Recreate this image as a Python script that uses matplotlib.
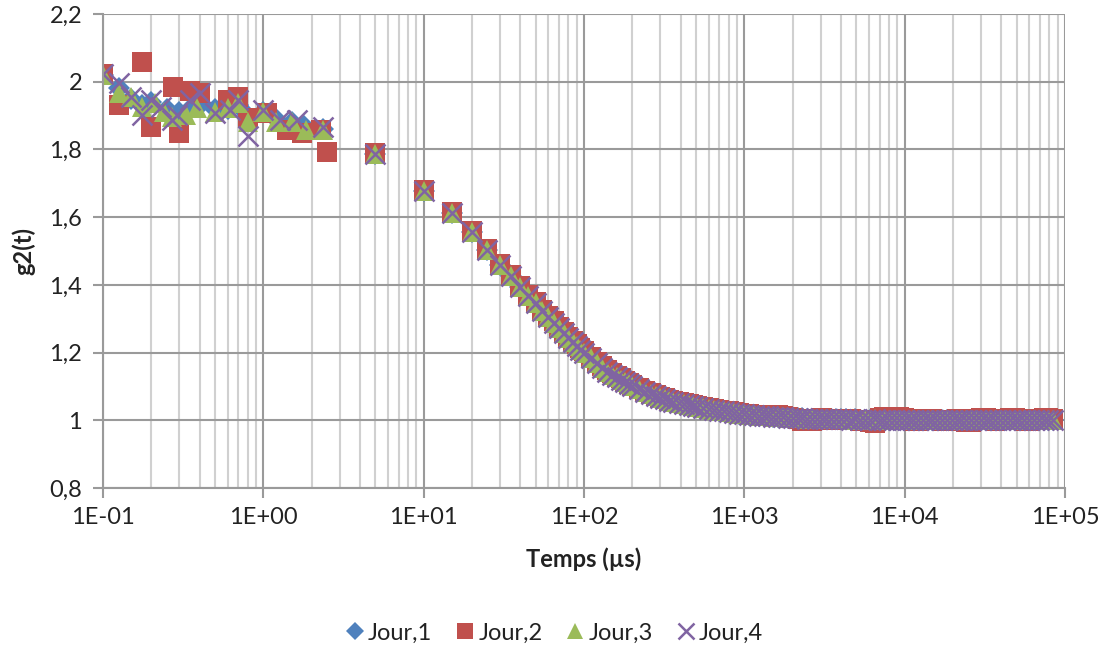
import math
import matplotlib
matplotlib.use("Agg")
import matplotlib.pyplot as plt
from matplotlib.ticker import LogLocator, FixedLocator, NullFormatter, FuncFormatter

plt.rcParams['font.family'] = ['Lato', 'DejaVu Sans']

# early part of the correlogram, each day its own sampling
t_j1_early = [0.1, 0.125, 0.15, 0.175, 0.2, 0.25, 0.3, 0.35, 0.4, 0.5, 0.6, 0.7, 0.8, 1.0, 1.2, 1.5, 1.8, 2.35]
g_j1_early = [2.02, 1.98, 1.95, 1.93, 1.94, 1.92, 1.91, 1.92, 1.93, 1.92, 1.92, 1.93, 1.90, 1.91, 1.89, 1.88, 1.87, 1.86]

t_j2_early = [0.1, 0.125, 0.175, 0.2, 0.275, 0.3, 0.35, 0.4, 0.6, 0.7, 0.8, 1.05, 1.4, 1.75, 2.3, 2.5]
g_j2_early = [2.023, 1.931, 2.058, 1.866, 1.984, 1.849, 1.972, 1.967, 1.946, 1.955, 1.893, 1.908, 1.857, 1.849, 1.857, 1.792]

t_j3_early = [0.1, 0.125, 0.15, 0.175, 0.21, 0.24, 0.27, 0.33, 0.385, 0.5, 0.6, 0.7, 0.8, 1.0, 1.2, 1.5, 1.85, 2.35]
g_j3_early = [2.02, 1.967, 1.955, 1.925, 1.937, 1.911, 1.896, 1.902, 1.922, 1.911, 1.922, 1.937, 1.881, 1.911, 1.881, 1.881, 1.857, 1.857]

t_j4_early = [0.1, 0.125, 0.15, 0.175, 0.2, 0.23, 0.27, 0.29, 0.35, 0.4, 0.5, 0.62, 0.7, 0.8, 1.0, 1.27, 1.62, 2.35]
g_j4_early = [2.023, 1.996, 1.955, 1.902, 1.946, 1.925, 1.887, 1.902, 1.946, 1.967, 1.908, 1.916, 1.946, 1.840, 1.916, 1.887, 1.887, 1.866]

# later part, common time base (µs)
t_late = [5, 10, 15, 20, 25, 30, 35, 40, 45, 50,
          55, 60, 65, 70, 75, 80, 85, 90, 95, 100,
          110, 120, 130, 140, 150, 160, 170, 180, 190, 200,
          220, 240, 260, 280, 300, 320, 340, 360, 390, 420,
          450, 480, 510, 550, 600, 650, 700, 750, 800, 860,
          920, 1000, 1070, 1150, 1230, 1320, 1410, 1510, 1620, 1740,
          1860, 2000, 2150, 2300, 2460, 2640, 2830, 3030, 3250, 3480,
          3730, 4000, 4290, 4600, 4930, 5280, 5660, 6070, 6500, 6970,
          7470, 8000, 8580, 9190, 9850, 10600, 11300, 12100, 13000, 13900,
          14900, 16000, 17100, 18400, 19700, 21100, 22600, 24200, 26000, 27800,
          29800, 32000, 34300, 36700, 39400, 42200, 45200, 48500, 52000, 55700,
          59700, 64000, 68600, 73500, 78800, 84500]

# days 1, 3 and 4 sit on top of each other
g_late = [1.787, 1.677, 1.612, 1.556, 1.503, 1.460, 1.425, 1.395, 1.368, 1.345,
          1.323, 1.305, 1.288, 1.272, 1.257, 1.243, 1.231, 1.220, 1.209, 1.200,
          1.183, 1.168, 1.155, 1.144, 1.135, 1.127, 1.120, 1.113, 1.107, 1.100,
          1.091, 1.084, 1.077, 1.071, 1.066, 1.062, 1.058, 1.055, 1.051, 1.047,
          1.044, 1.041, 1.039, 1.036, 1.033, 1.031, 1.028, 1.026, 1.024, 1.022,
          1.020, 1.018, 1.017, 1.015, 1.014, 1.013, 1.012, 1.011, 1.010, 1.009,
          1.008, 1.007, 1.006, 1.006, 1.005, 1.005, 1.004, 1.004, 1.004, 1.003,
          1.003, 1.003, 1.003, 1.002, 1.003, 1.002, 1.002, 1.002, 1.003, 1.002,
          1.002, 1.001, 1.002, 1.002, 1.001, 1.002, 1.001, 1.002, 1.002, 1.001,
          1.002, 1.001, 1.001, 1.002, 1.001, 1.002, 1.001, 1.001, 1.002, 1.001,
          1.001, 1.002, 1.001, 1.001, 1.002, 1.001, 1.001, 1.002, 1.001, 1.001,
          1.002, 1.001, 1.001, 1.002, 1.001, 1.001]

g_j2_late = [1.790, 1.680, 1.615, 1.559, 1.506, 1.463, 1.428, 1.398, 1.371, 1.348,
             1.327, 1.309, 1.292, 1.276, 1.261, 1.247, 1.235, 1.224, 1.213, 1.204,
             1.187, 1.172, 1.159, 1.148, 1.139, 1.131, 1.124, 1.117, 1.111, 1.104,
             1.095, 1.087, 1.080, 1.074, 1.069, 1.065, 1.061, 1.058, 1.054, 1.050,
             1.047, 1.044, 1.041, 1.038, 1.035, 1.033, 1.030, 1.028, 1.026, 1.024,
             1.022, 1.020, 1.018, 1.016, 1.015, 1.013, 1.012, 1.013, 1.015, 1.014,
             1.010, 1.008, 1.004, 0.999, 0.997, 0.998, 1.003, 1.006, 1.004, 1.002,
             1.001, 1.003, 1.005, 1.004, 1.001, 0.999, 1.002, 0.996, 0.993, 1.006,
             1.010, 1.008, 1.005, 1.009, 1.007, 1.003, 0.999, 0.997, 1.001, 1.003,
             1.005, 1.002, 0.998, 0.997, 1.000, 1.003, 1.004, 0.995, 0.996, 1.002,
             1.006, 1.008, 1.004, 0.999, 1.000, 1.003, 1.007, 1.008, 1.003, 0.998,
             0.997, 1.002, 1.004, 1.006, 1.007, 1.005]

x_ticks = [1e-1, 1e0, 1e1, 1e2, 1e3, 1e4, 1e5]
y_ticks = [0.8, 1.0, 1.2, 1.4, 1.6, 1.8, 2.0, 2.2]
y_tick_labels = ["0,8", "1", "1,2", "1,4", "1,6", "1,8", "2", "2,2"]

C_BLUE = "#4F81BD"
C_RED = "#C0504D"
C_GREEN = "#9BBB59"
C_PURPLE = "#8064A2"
C_TEXT = "#222222"
C_GRID = "#9a9a9a"

fig = plt.figure(figsize=(11.05, 6.51), dpi=100)
ax = fig.add_axes([103 / 1105, 1 - 488 / 651, 962 / 1105, 474 / 651])

ax.plot(t_j1_early + t_late, g_j1_early + g_late, linestyle='none', marker='D',
        markersize=11, color=C_BLUE, markeredgewidth=0, label="Jour,1")
ax.plot(t_j2_early + t_late, g_j2_early + g_j2_late, linestyle='none', marker='s',
        markersize=14.5, color=C_RED, markeredgewidth=0, label="Jour,2")
ax.plot(t_j3_early + t_late, g_j3_early + g_late, linestyle='none', marker='^',
        markersize=15, color=C_GREEN, markeredgewidth=0, label="Jour,3")
ax.plot(t_j4_early + t_late, g_j4_early + g_late, linestyle='none', marker='x',
        markersize=14, color=C_PURPLE, markeredgewidth=1.8, label="Jour,4")

ax.set_xscale('log')
ax.set_xlim(0.1, 1e5)
ax.set_ylim(0.8, 2.2)

ax.xaxis.set_major_locator(FixedLocator(x_ticks))
ax.xaxis.set_minor_locator(LogLocator(base=10, subs=range(2, 10), numticks=100))
ax.xaxis.set_minor_formatter(NullFormatter())
ax.xaxis.set_major_formatter(FuncFormatter(lambda v, p: "1E%+03d" % round(math.log10(v))))
ax.yaxis.set_major_locator(FixedLocator(y_ticks))
ax.set_yticklabels(y_tick_labels)

ax.grid(which='major', axis='x', color=C_GRID, linewidth=1.5, zorder=0)
ax.grid(which='minor', axis='x', color='#d0d0d0', linewidth=1.5, zorder=0)
ax.grid(which='major', axis='y', color=C_GRID, linewidth=1.5, zorder=0)
ax.set_axisbelow(True)

for side in ['top', 'right']:
    ax.spines[side].set_visible(False)
for side in ['left', 'bottom']:
    ax.spines[side].set_color(C_GRID)
    ax.spines[side].set_linewidth(1.5)

ax.tick_params(axis='both', which='major', direction='out', length=7, width=1.5,
               color=C_GRID, labelsize=17, labelcolor=C_TEXT)
ax.tick_params(axis='x', which='major', pad=7)
ax.tick_params(axis='y', which='major', pad=8)
ax.tick_params(axis='x', which='minor', length=0)

ax.set_xlabel("Temps (µs)", fontsize=17, fontweight='bold', color=C_TEXT, labelpad=14)
ax.set_ylabel("g2(t)", fontsize=17, fontweight='bold', color=C_TEXT, labelpad=10)

fig.legend(loc='center', bbox_to_anchor=(553 / 1105, 1 - 633 / 651), ncol=4, frameon=False,
           fontsize=17, handletextpad=0.05, columnspacing=0.9, handlelength=1.0,
           markerscale=0.8, labelcolor=C_TEXT)

fig.savefig("out.png", dpi=100)
